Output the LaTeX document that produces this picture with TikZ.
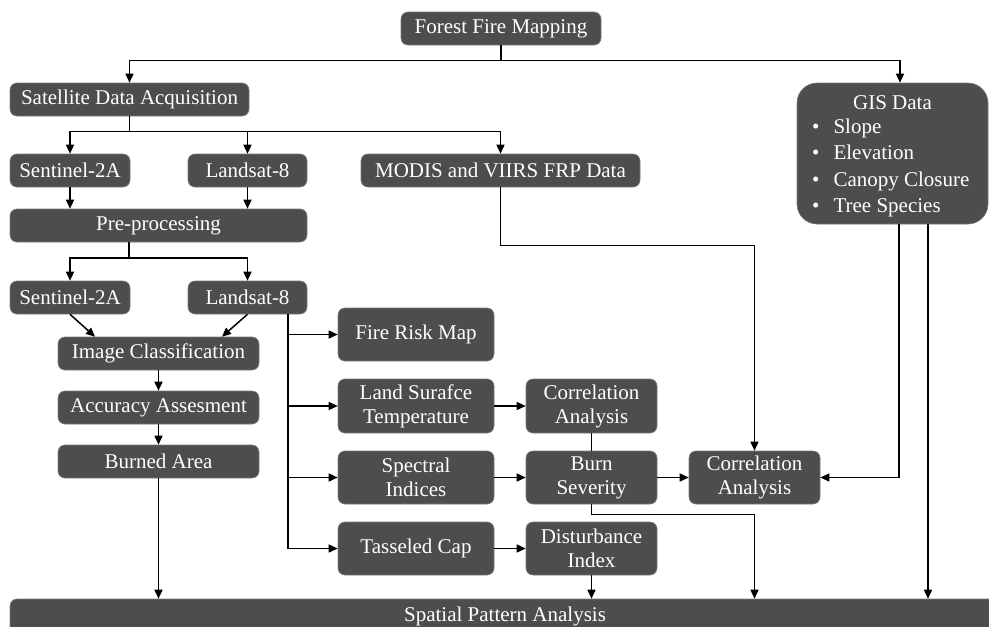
\documentclass[tikz,border=0pt]{standalone}
\usepackage{fontspec}
\setmainfont{Liberation Serif}
\newfontfamily\tnrfont{Liberation Serif}
\usetikzlibrary{arrows.meta,calc}
\definecolor{boxfill}{HTML}{4D4D4D}
\definecolor{boxline}{HTML}{7A7A7A}
\begin{document}
\begin{tikzpicture}[x=1pt,y=-1pt,
  box/.style={draw=boxline, line width=0.6pt, fill=boxfill, rounded corners=7pt, text=white,
    font=\tnrfont\fontsize{21}{24}\selectfont, align=center, inner sep=0pt},
  sz/.style 2 args={minimum width=#1pt, minimum height=#2pt},
  txt/.style={text=white, font=\tnrfont\fontsize{21}{24}\selectfont, inner sep=0pt},
  ln/.style={line width=1.5pt},
  arr/.style={line width=1.5pt, -{Triangle[length=9pt,width=8pt]}}]
\useasboundingbox (0,0) rectangle (989,627);

% nodes
\node[box, sz={200}{33}] (ffm) at (501,28.5) {Forest Fire Mapping};
\node[box, sz={239}{33}] (sda) at (129.5,99.5) {Satellite Data Acquisition};
\node[box, sz={120}{33}] (s1) at (70,170.5) {Sentinel-2A};
\node[box, sz={119}{33}] (l1) at (247.5,170.5) {Landsat-8};
\node[box, sz={279}{33}] (modis) at (500.5,170.5) {MODIS and VIIRS FRP Data};
\node[box, sz={191}{141}, rounded corners=20pt] (gis) at (892.5,153.5) {};
\node[txt, anchor=base] (gist) at (892.5,109) {GIS Data};
\node[txt, anchor=base west] (g1) at (812,133) {\textbullet\hspace{14pt}Slope};
\node[txt, anchor=base west] (g2) at (812,159) {\textbullet\hspace{14pt}Elevation};
\node[txt, anchor=base west] (g3) at (812,186) {\textbullet\hspace{14pt}Canopy Closure};
\node[txt, anchor=base west] (g4) at (812,212) {\textbullet\hspace{14pt}Tree Species};
\node[box, sz={297}{33}] (pre) at (158.5,225.5) {Pre-processing};
\node[box, sz={120}{33}] (s2) at (70,297.5) {Sentinel-2A};
\node[box, sz={119}{33}] (l2) at (247.5,297.5) {Landsat-8};
\node[box, sz={201}{33}] (ic) at (158.5,353.5) {Image Classification};
\node[box, sz={201}{33}] (aa) at (158.5,407.5) {Accuracy Assesment};
\node[box, sz={201}{33}] (ba) at (158.5,461.5) {Burned Area};
\node[box, sz={990}{34}] (spa) at (505,616) {Spatial Pattern Analysis};
\node[box, sz={156}{53}] (frm) at (416,334.5) {Fire Risk Map};
\node[box, sz={156}{54}] (lst) at (416,406) {Land Surafce\\Temperature};
\node[box, sz={156}{53}] (si) at (416,477.5) {Spectral\\Indices};
\node[box, sz={156}{53}] (tc) at (416,548.5) {Tasseled Cap};
\node[box, sz={131}{54}] (ca1) at (591.5,406) {Correlation\\Analysis};
\node[box, sz={131}{53}] (bs) at (591.5,477.5) {Burn\\Severity};
\node[box, sz={131}{53}] (di) at (591.5,548.5) {Disturbance\\Index};
\node[box, sz={131}{53}] (ca2) at (754.5,477.5) {Correlation\\Analysis};

% connectors
\coordinate (j1) at ($(ffm.south)+(0,15)$);
\draw[ln] (ffm.south) -- (j1);
\draw[arr] (j1) -| (sda.north);
\draw[arr] (j1) -| ([xshift=7.5pt]gis.north);

\coordinate (j2) at ($(sda.south)+(0,15)$);
\draw[ln] (sda.south) -- (j2);
\draw[arr] (j2) -| (s1.north);
\draw[arr] (j2) -| (l1.north);
\draw[arr] (j2) -| (modis.north);

\draw[arr] (s1.south) -- (s1.south |- pre.north);
\draw[arr] (l1.south) -- (l1.south |- pre.north);

\coordinate (j3) at (129,258);
\draw[ln] (j3 |- pre.south) -- (j3);
\draw[arr] (j3) -| (s2.north);
\draw[arr] (j3) -| (l2.north);

\draw[arr] (s2.south) -- ([xshift=-63.5pt]ic.north);
\draw[arr] (l2.south) -- ([xshift=63.5pt]ic.north);
\draw[arr] (ic.south) -- (aa.north);
\draw[arr] (aa.south) -- (ba.north);
\draw[arr] (ba.south) -- (ba.south |- spa.north);

\coordinate (v0) at ($(l2.south)+(40.5,0)$);
\coordinate (v1) at (v0 |- tc.west);
\draw[ln] (v0) -- (v1);
\draw[arr] (v0 |- frm.west) -- (frm.west);
\draw[arr] (v0 |- lst.west) -- (lst.west);
\draw[arr] (v0 |- si.west) -- (si.west);
\draw[arr] (v1) -- (tc.west);

\draw[arr] (lst.east) -- (ca1.west);
\draw[arr] (si.east) -- (bs.west);
\draw[arr] (tc.east) -- (di.west);
\draw[ln] (ca1.south) -- (bs.north);
\draw[arr] (bs.east) -- (ca2.west);

\draw[arr] (modis.south) -- ++(0,58) -| (ca2.north);
\draw[arr] ([xshift=6.5pt]gis.south) |- (ca2.east);
\draw[arr] ([xshift=35.5pt]gis.south) -- ([xshift=35.5pt]gis.south |- spa.north);
\draw[arr] (bs.south) -- ++(0,10) -| (ca2.south |- spa.north);
\draw[arr] (di.south) -- (di.south |- spa.north);
\end{tikzpicture}
\end{document}
